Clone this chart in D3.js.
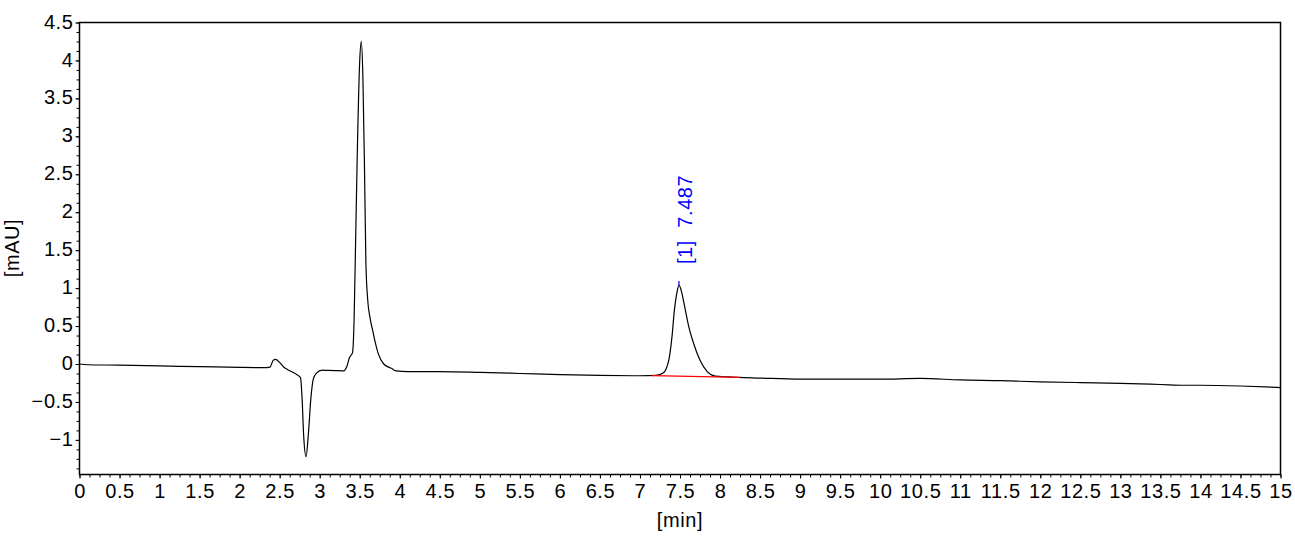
<!DOCTYPE html>
<html>
<head>
<meta charset="utf-8">
<script src="https://cdn.jsdelivr.net/npm/d3@7/dist/d3.min.js"></script>
<style>
	html, body { margin: 0; padding: 0; background: #ffffff; }
	svg { display: block; }
	text { font-family: "Liberation Sans", Arial, sans-serif; font-size: 20px; letter-spacing: 0.6px; fill: #000; }
	.axis path, .axis line { stroke: #000; }
</style>
</head>
<body>
<div id="chart"></div>
<script>

// retention time [min]
var times = [0, 0.1, 0.5, 1.0, 1.5, 2.0, 2.3, 2.38, 2.42, 2.45, 2.5, 2.55, 2.6, 2.7, 2.76,
	2.78, 2.8, 2.83, 2.86, 2.89, 2.92, 2.96, 3.03, 3.1, 3.3, 3.34, 3.37, 3.41,
	3.43, 3.45, 3.47, 3.5, 3.52, 3.54, 3.56, 3.577, 3.6, 3.63, 3.66, 3.69, 3.73, 3.8, 3.9, 3.95,
	4.1, 4.5, 5.0, 5.5, 6.0, 6.5, 7.0, 7.2, 7.29, 7.36, 7.4, 7.43, 7.46, 7.487,
	7.52, 7.55, 7.61, 7.67, 7.75, 7.84, 7.94, 8.1, 8.5, 9.0, 9.5, 10.0, 10.5,
	11.0, 11.5, 12.0, 12.5, 13.0, 13.5, 13.8, 14.0, 14.5, 15.0];

// detector signal [mAU]
var signal = [0, -0.01, -0.015, -0.025, -0.035, -0.045, -0.048, -0.04, 0.05, 0.06, 0.02, -0.04, -0.075, -0.13, -0.18,
	-0.45, -0.95, -1.22, -0.9, -0.45, -0.2, -0.12, -0.08, -0.085, -0.09, -0.03, 0.08, 0.15,
	0.6, 1.7, 2.8, 4.0, 4.25, 3.75, 2.55, 1.33, 0.84, 0.6, 0.45, 0.3, 0.14, 0.0, -0.06, -0.09,
	-0.1, -0.1, -0.11, -0.125, -0.14, -0.15, -0.155, -0.15, -0.12, 0.05, 0.36, 0.71, 0.93, 1.04,
	0.95, 0.80, 0.49, 0.27, 0.05, -0.10, -0.16, -0.17, -0.185, -0.2, -0.2, -0.2, -0.19,
	-0.21, -0.22, -0.235, -0.245, -0.255, -0.27, -0.28, -0.28, -0.29, -0.31];

// integrated peaks
var peakNames = ["[1]  7.487"];
var peakTimes = [7.487];
var peakHeights = [1.04];
var baseStart = [7.15];
var baseEnd = [8.25];
var baseStartVal = [-0.154];
var baseEndVal = [-0.175];

var xTicks = d3.range(0, 15.001, 0.5);
var xMinor = d3.range(0, 15.001, 0.125);
var yTicks = d3.range(-1, 4.501, 0.5);
var yMinor = d3.range(-1.375, 4.501, 0.125);

var xTitle = "[min]";
var yTitle = "[mAU]";


(function()
{
	var width = 1295, height = 536;
	var mLeft = 79.5, mRight = 1280.5, mTop = 22.5, mBottom = 474.5;

	var x = d3.scaleLinear().domain([0, 15]).range([mLeft, mRight]);
	var y = d3.scaleLinear().domain([-1.456, 4.5]).range([mBottom, mTop]);

	var svg = d3.select("#chart").append("svg")
		.attr("width", width)
		.attr("height", height);

	function fmt(d)
	{
		return d3.format("~g")(+d.toFixed(3));
	}

	// minor ticks first, then the labelled ones
	svg.append("g")
		.attr("class", "axis")
		.attr("transform", "translate(0," + mBottom + ")")
		.call(d3.axisBottom(x).tickValues(xMinor).tickSize(3).tickFormat(""))
		.call(function(g) { g.select(".domain").remove(); });

	svg.append("g")
		.attr("class", "axis")
		.attr("transform", "translate(0," + mBottom + ")")
		.call(d3.axisBottom(x).tickValues(xTicks).tickSize(4).tickPadding(5).tickFormat(fmt))
		.call(function(g) {
			g.select(".domain").remove();
			g.selectAll("text").attr("font-size", null).attr("font-family", null);
		});

	svg.append("g")
		.attr("class", "axis")
		.attr("transform", "translate(" + mLeft + ",0)")
		.call(d3.axisLeft(y).tickValues(yMinor).tickSize(3).tickFormat(""))
		.call(function(g) { g.select(".domain").remove(); });

	svg.append("g")
		.attr("class", "axis")
		.attr("transform", "translate(" + mLeft + ",0)")
		.call(d3.axisLeft(y).tickValues(yTicks).tickSize(4).tickPadding(2).tickFormat(fmt))
		.call(function(g) {
			g.select(".domain").remove();
			g.selectAll("text").attr("font-size", null).attr("font-family", null).attr("dy", "0.28em");
		});

	// plot frame
	svg.append("rect")
		.attr("x", mLeft)
		.attr("y", mTop)
		.attr("width", mRight - mLeft)
		.attr("height", mBottom - mTop)
		.attr("fill", "none")
		.attr("stroke", "#000")
		.attr("stroke-width", 1.5);

	var pts = times.map(function(t, i) { return [t, signal[i]]; });

	var line = d3.line()
		.curve(d3.curveMonotoneX)
		.x(function(d) { return x(d[0]); })
		.y(function(d) { return y(d[1]); });

	svg.append("path")
		.datum(pts)
		.attr("fill", "none")
		.attr("stroke", "#000")
		.attr("stroke-width", 1.2)
		.attr("stroke-linejoin", "round")
		.attr("d", line);

	// peak baselines
	svg.selectAll(".pbase")
		.data(peakTimes)
		.enter().append("line")
		.attr("class", "pbase")
		.attr("x1", function(d, i) { return x(baseStart[i]); })
		.attr("x2", function(d, i) { return x(baseEnd[i]); })
		.attr("y1", function(d, i) { return y(baseStartVal[i]); })
		.attr("y2", function(d, i) { return y(baseEndVal[i]); })
		.attr("stroke", "#ff0000")
		.attr("stroke-width", 1.2);

	// apex marks
	svg.selectAll(".apex")
		.data(peakTimes)
		.enter().append("line")
		.attr("class", "apex")
		.attr("x1", function(d) { return x(d); })
		.attr("x2", function(d) { return x(d); })
		.attr("y1", function(d, i) { return y(peakHeights[i]); })
		.attr("y2", function(d, i) { return y(peakHeights[i]) - 4; })
		.attr("stroke", "#0000ff")
		.attr("stroke-width", 1.2);

	svg.selectAll(".plabel")
		.data(peakTimes)
		.enter().append("text")
		.attr("class", "plabel")
		.attr("transform", function(d, i) {
			return "translate(" + (x(d) + 13.5) + "," + (y(peakHeights[i]) - 21) + ") rotate(-90)";
		})
		.style("fill", "#0000ff")
		.style("white-space", "pre")
		.attr("xml:space", "preserve")
		.text(function(d, i) { return peakNames[i]; });

	// axis titles
	svg.append("text")
		.attr("x", x(7.5))
		.attr("y", 527)
		.attr("text-anchor", "middle")
		.text(xTitle);

	svg.append("text")
		.attr("transform", "translate(19,248) rotate(-90)")
		.attr("text-anchor", "middle")
		.text(yTitle);

}());

</script>
</body>
</html>
